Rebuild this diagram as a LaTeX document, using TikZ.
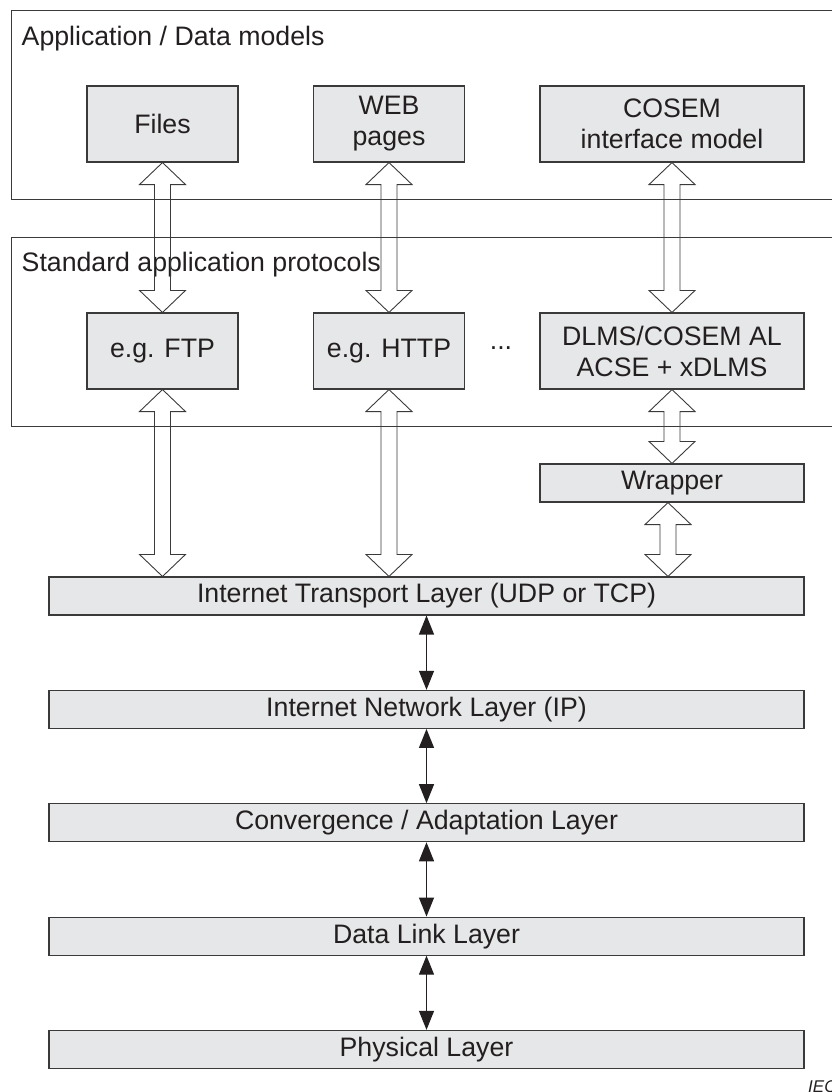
\documentclass[tikz,border=0pt]{standalone}
\usepackage{fontspec}
\setmainfont{Liberation Sans}
\usetikzlibrary{arrows.meta,calc}
\definecolor{boxfill}{HTML}{E6E7E8}
\definecolor{edge}{HTML}{3A3A3A}
\definecolor{ink}{HTML}{231F20}
\tikzset{
  label font/.style={font=\fontsize{26.7}{31}\selectfont, text=ink},
  layerbox/.style={draw=edge, line width=1.1pt, fill=boxfill, inner sep=0pt,
    align=center, label font},
  frame/.style={draw=edge, line width=1.1pt},
  hollow/.style={draw=edge, line width=0.9pt, line join=miter},
  thin link/.style={draw=ink, line width=1.2pt,
    {Triangle[width=15pt,length=19pt]}-{Triangle[width=15pt,length=19pt]}},
}
% double-headed outline arrow between two anchors (top point, bottom point)
\newcommand\blockarrow[2]{%
  \draw[hollow] let \p1=#1, \p2=#2 in
    (\x1,\y1) -- (\x1+23pt,\y1-22pt) -- (\x1+8pt,\y1-22pt)
    -- (\x1+8pt,\y2+22pt) -- (\x1+23pt,\y2+22pt) -- (\x1,\y2)
    -- (\x1-23pt,\y2+22pt) -- (\x1-8pt,\y2+22pt)
    -- (\x1-8pt,\y1-22pt) -- (\x1-23pt,\y1-22pt) -- cycle;}
\begin{document}
\begin{tikzpicture}[x=1pt,y=-1pt]
\useasboundingbox (0,0) rectangle (832,1092);

% open frames of the two upper groups
\draw[frame] (832,10.7) -- (11.3,10.7) -- (11.3,199.3) -- (832,199.3);
\draw[frame] (832,237.3) -- (11.3,237.3) -- (11.3,426.3) -- (832,426.3);
\node[label font, anchor=base west, inner sep=0pt] (apptitle) at (21.5,45) {Application / Data models};
\node[label font, anchor=base west, inner sep=0pt] (stdtitle) at (21.5,271) {Standard application protocols};

% application / data models
\node[layerbox, minimum width=151pt, minimum height=76pt] (files) at (162.5,124) {Files};
\node[layerbox, minimum width=151pt, minimum height=76pt] (web) at (389,124) {WEB\\pages};
\node[layerbox, minimum width=264pt, minimum height=76pt] (cosem) at (672,124) {COSEM\\interface model};

% protocols
\node[layerbox, minimum width=151pt, minimum height=76pt] (ftp) at (162.5,351) {e.g. FTP};
\node[layerbox, minimum width=151pt, minimum height=76pt] (http) at (389,351) {e.g. HTTP};
\node[label font, anchor=base, inner sep=0pt] (dots) at (501,349) {...};
\node[layerbox, minimum width=264pt, minimum height=76pt] (dlms) at (672,351) {DLMS/COSEM AL\\ACSE + xDLMS};
\node[layerbox, minimum width=264pt, minimum height=38pt] (wrapper) at (672,483) {Wrapper};

% lower layer stack
\node[layerbox, minimum width=755pt, minimum height=38pt] (transport) at (426.5,596) {Internet Transport Layer (UDP or TCP)};
\node[layerbox, minimum width=755pt, minimum height=38pt] (network) at (426.5,709.4) {Internet Network Layer (IP)};
\node[layerbox, minimum width=755pt, minimum height=38pt] (conv) at (426.5,822.7) {Convergence / Adaptation Layer};
\node[layerbox, minimum width=755pt, minimum height=38pt] (link) at (426.5,936.1) {Data Link Layer};
\node[layerbox, minimum width=755pt, minimum height=38pt] (phys) at (426.5,1049.4) {Physical Layer};

% outline arrows
\blockarrow{(files.south)}{(ftp.north)}
\blockarrow{(web.south)}{(http.north)}
\blockarrow{(cosem.south)}{(dlms.north)}
\blockarrow{(ftp.south)}{(ftp.south|-transport.north)}
\blockarrow{(http.south)}{(http.south|-transport.north)}
\blockarrow{(dlms.south)}{(wrapper.north)}
\blockarrow{([xshift=-4pt]wrapper.south)}{([xshift=-4pt]wrapper.south|-transport.north)}

% links between layers
\draw[thin link] (transport.south) -- (network.north);
\draw[thin link] (network.south) -- (conv.north);
\draw[thin link] (conv.south) -- (link.north);
\draw[thin link] (link.south) -- (phys.north);

\node[font=\fontsize{17}{20}\selectfont\itshape, text=ink, anchor=base west, inner sep=0pt] (iec) at (808,1092.5) {IEC};
\end{tikzpicture}
\end{document}
